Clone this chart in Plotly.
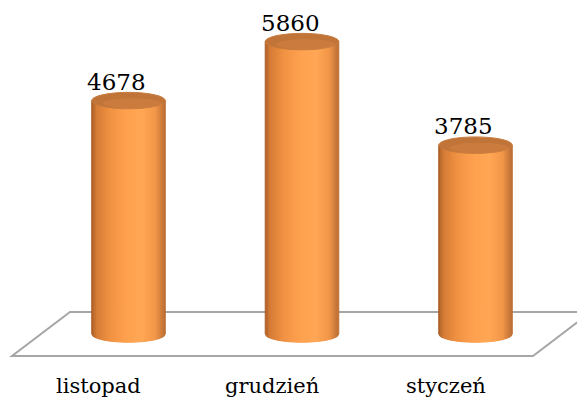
import plotly.graph_objects as go
import numpy as np

categories = ["listopad", "grudzień", "styczeń"]
values = [4678, 5860, 3785]
value_labels = ["4678", "5860", "3785"]

# layout / style constants (page body has an 8px margin, compensated here)
W, H = 585, 401
OFF = 8
PX_PER_X = 173.5
PX_PER_Y = 0.0499
X0_PX = 128.5 - OFF
Y0_PX = 334 - OFF
X_RANGE = [-X0_PX / PX_PER_X, (W - X0_PX) / PX_PER_X]
Y_RANGE = [(Y0_PX - H) / PX_PER_Y, Y0_PX / PX_PER_Y]
HALF_W = 0.212
ELL_B = 165
N_STRIPS = 48
FONT = "DejaVu Serif"

side_stops = [(-1.0, (168, 94, 40)), (-0.85, (214, 124, 55)), (-0.5, (240, 145, 66)),
              (0.0, (255, 162, 80)), (0.4, (255, 166, 84)), (0.75, (242, 150, 72)),
              (1.0, (186, 110, 52))]


def side_color(u):
    for (u0, c0), (u1, c1) in zip(side_stops[:-1], side_stops[1:]):
        if u0 <= u <= u1:
            t = (u - u0) / (u1 - u0)
            c = [round(a + (b - a) * t) for a, b in zip(c0, c1)]
            return "rgb(%d,%d,%d)" % tuple(c)
    return "rgb(%d,%d,%d)" % side_stops[-1][1]


fig = go.Figure()
fig.add_trace(go.Scatter(x=[0, 1, 2], y=values, mode="markers",
                         marker=dict(opacity=0), hoverinfo="skip", showlegend=False))

shapes = []
floor_pts = [(12, 356), (533, 356), (591, 312), (70, 312)]
path = "M " + " L ".join("%.4f,%.4f" % ((px - OFF) / W, 1 - (py - OFF) / H) for px, py in floor_pts) + " Z"
shapes.append(dict(type="path", xref="paper", yref="paper", path=path,
                   line=dict(color="#a6a6a6", width=2), fillcolor="rgba(0,0,0,0)", layer="below"))

for i, v in enumerate(values):
    edges = np.linspace(-1, 1, N_STRIPS + 1)
    for k in range(N_STRIPS):
        u0, u1 = edges[k], edges[k + 1]
        um = (u0 + u1) / 2
        xa = i + u0 * HALF_W
        xb = i + u1 * HALF_W
        ya = -ELL_B * np.sqrt(max(0.0, 1 - u0 ** 2))
        yb = -ELL_B * np.sqrt(max(0.0, 1 - u1 ** 2))
        col = side_color(um)
        p = "M %.5f,%.2f L %.5f,%.2f L %.5f,%.2f L %.5f,%.2f Z" % (xa, v, xb, v, xb, yb, xa, ya)
        shapes.append(dict(type="path", xref="x", yref="y", path=p,
                           fillcolor=col, line=dict(color=col, width=1)))
    shapes.append(dict(type="circle", xref="x", yref="y",
                       x0=i - HALF_W, x1=i + HALF_W, y0=v - ELL_B, y1=v + ELL_B,
                       fillcolor="rgb(192,116,56)", line=dict(color="rgb(200,124,62)", width=1)))
    shapes.append(dict(type="circle", xref="x", yref="y",
                       x0=i - HALF_W * 0.7, x1=i + HALF_W * 0.9, y0=v - ELL_B * 0.97, y1=v + ELL_B * 0.3,
                       fillcolor="rgba(222,138,72,0.35)", line=dict(width=0)))

annotations = []
for i, (v, lab) in enumerate(zip(values, value_labels)):
    annotations.append(dict(x=i, y=v, xref="x", yref="y", text=lab, showarrow=False,
                            xshift=-12, yshift=19, yanchor="middle",
                            font=dict(family=FONT, size=23, color="black")))
for i, c in enumerate(categories):
    annotations.append(dict(x=i, y=1 - (386 - OFF) / H, xref="x", yref="paper", text=c, showarrow=False,
                            xshift=-30, yanchor="middle",
                            font=dict(family=FONT, size=21, color="black")))

fig.update_layout(
    width=W, height=H, autosize=False,
    margin=dict(l=0, r=0, t=0, b=0),
    paper_bgcolor="white", plot_bgcolor="white",
    xaxis=dict(range=X_RANGE, visible=False, fixedrange=True),
    yaxis=dict(range=Y_RANGE, visible=False, fixedrange=True),
    shapes=shapes, annotations=annotations, showlegend=False,
)
fig.write_html("out.html")
